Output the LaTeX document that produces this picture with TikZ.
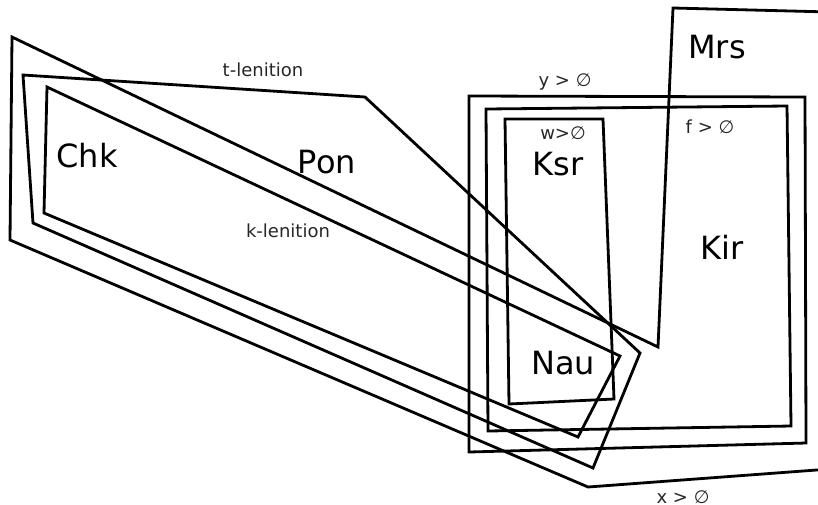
\documentclass[tikz,border=0pt]{standalone}
\usepackage{fontspec}
\setmainfont{DejaVu Sans}
\begin{document}
\begin{tikzpicture}[x=1pt,y=-1pt,
  region/.style={draw=black,line width=2.8pt,line join=miter},
  big/.style={font=\fontsize{32}{36}\selectfont,inner sep=0pt,text=black},
  small/.style={font=\fontsize{18}{21}\selectfont,inner sep=0pt,text=black!85}]
\useasboundingbox (0,0) rectangle (818,504);
\clip (0,0) rectangle (818,504);
% x > 0 region (includes Mrs)
\draw[region] (830,12) -- (673,8) -- (658,347) -- (12,37) -- (10,240) -- (588,487) -- (830,469);
% t-lenition
\draw[region] (23,75) -- (365,97) -- (640,353) -- (593,468) -- (33,223) -- cycle;
% k-lenition
\draw[region] (47,87) -- (620,356) -- (578,437) -- (44,213) -- cycle;
% y > 0
\draw[region] (469,96) -- (805,97) -- (806,443) -- (469,452) -- cycle;
% f > 0
\draw[region] (486,109) -- (787,106) -- (791,426) -- (488,431) -- cycle;
% w > 0
\draw[region] (505,119) -- (603,119) -- (614,399) -- (509,404) -- cycle;
% labels
\node[small] (tlen) at (263,70) {t-lenition};
\node[small] (klen) at (288,231) {k-lenition};
\node[small] (ylab) at (565,82) {y > ∅};
\node[small] (wlab) at (563,133) {w>∅};
\node[small] (flab) at (710,127) {f > ∅};
\node[small] (xlab) at (683,497) {x > ∅};
\node[big] (chk) at (87,156) {Chk};
\node[big] (pon) at (327,162) {Pon};
\node[big] (mrs) at (717,47) {Mrs};
\node[big] (ksr) at (558,164) {Ksr};
\node[big] (kir) at (722,247) {Kir};
\node[big] (nau) at (563,363) {Nau};
\end{tikzpicture}
\end{document}
